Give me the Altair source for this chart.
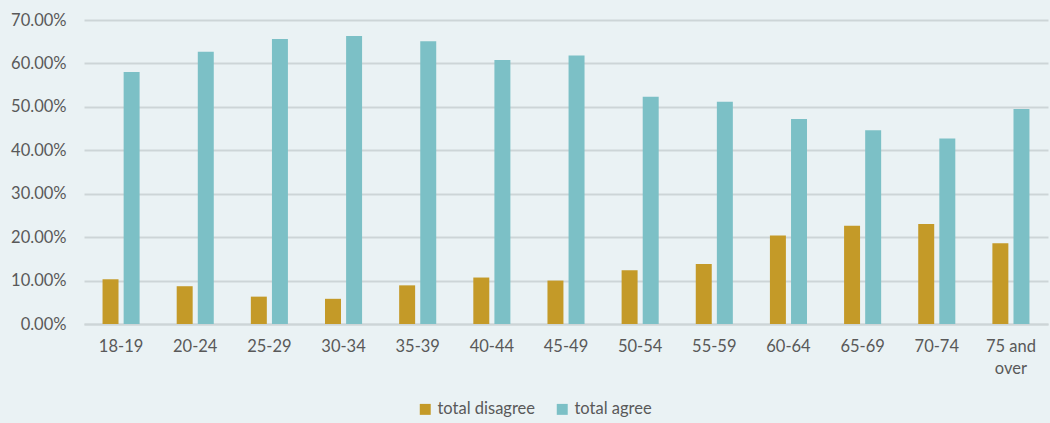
import altair as alt
import pandas as pd

# Age groups on the x axis
age_groups = ["18-19", "20-24", "25-29", "30-34", "35-39", "40-44", "45-49",
              "50-54", "55-59", "60-64", "65-69", "70-74", "75 and over"]

# Share of respondents (fractions) per age group
total_disagree = [0.103, 0.087, 0.063, 0.058, 0.089, 0.107, 0.100,
                  0.124, 0.138, 0.204, 0.226, 0.230, 0.186]
total_agree = [0.580, 0.627, 0.656, 0.663, 0.651, 0.608, 0.618,
               0.523, 0.512, 0.472, 0.446, 0.427, 0.495]

series_names = ["total disagree", "total agree"]
series_colors = ["#c49a28", "#7cc0c6"]

rows = []
for i, age in enumerate(age_groups):
    rows.append({"age": age, "series": series_names[0], "value": total_disagree[i]})
    rows.append({"age": age, "series": series_names[1], "value": total_agree[i]})
df = pd.DataFrame(rows)

font = "Lato"
font_size = 16.5
label_color = "#595959"
grid_color = "#cdd5d7"

chart = (
    alt.Chart(df)
    .mark_bar()
    .encode(
        x=alt.X(
            "age:N",
            sort=age_groups,
            title=None,
            scale=alt.Scale(paddingInner=0.5, paddingOuter=0.25),
            axis=alt.Axis(
                labelAngle=0,
                labelFont=font,
                labelFontSize=font_size,
                labelColor=label_color,
                labelPadding=14,
                ticks=False,
                domainColor=grid_color,
                domainWidth=2,
                labelExpr="datum.value == '75 and over' ? ['75 and', 'over'] : datum.value",
                labelLineHeight=22,
            ),
        ),
        xOffset=alt.XOffset(
            "series:N",
            sort=series_names,
            scale=alt.Scale(paddingInner=0.243, paddingOuter=0),
        ),
        y=alt.Y(
            "value:Q",
            title=None,
            scale=alt.Scale(domain=[0, 0.7], nice=False),
            axis=alt.Axis(
                format=".2%",
                values=[0, 0.1, 0.2, 0.3, 0.4, 0.5, 0.6, 0.7],
                labelFont=font,
                labelFontSize=font_size,
                labelColor=label_color,
                labelPadding=18,
                ticks=False,
                domain=False,
                gridColor=grid_color,
                gridWidth=2,
            ),
        ),
        color=alt.Color(
            "series:N",
            sort=series_names,
            scale=alt.Scale(domain=series_names, range=series_colors),
            legend=alt.Legend(
                title=None,
                orient="none",
                direction="horizontal",
                legendX=333,
                legendY=381,
                symbolType="square",
                symbolSize=120,
                symbolStrokeWidth=0,
                labelFont=font,
                labelFontSize=font_size,
                labelColor=label_color,
                columnPadding=18,
                labelOffset=4,
            ),
        ),
    )
    .properties(
        width=964,
        height=304,
        autosize=alt.AutoSizeParams(type="none"),
        padding={"left": 84, "top": 20, "right": 2, "bottom": 99},
        background="#eaf2f4",
    )
    .configure_view(stroke=None)
)

chart.save("out.html", embed_options={"renderer": "svg", "actions": False})
